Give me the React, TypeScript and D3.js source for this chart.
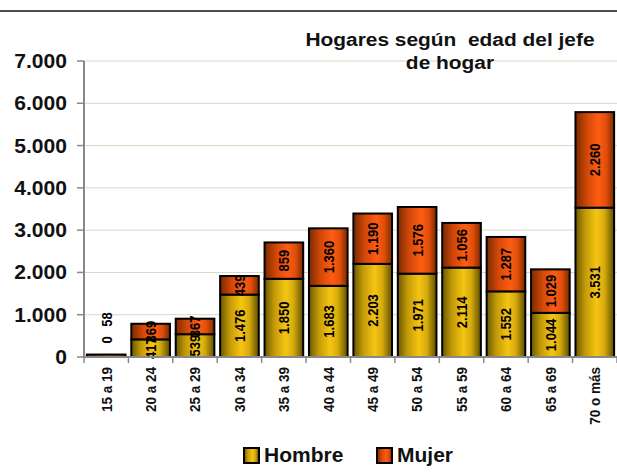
import React from 'react';
import * as d3 from 'd3';

const categories = ['15 a 19', '20 a 24', '25 a 29', '30 a 34', '35 a 39', '40 a 44',
  '45 a 49', '50 a 54', '55 a 59', '60 a 64', '65 a 69', '70 o más'];
const hombre = [0, 417, 539, 1476, 1850, 1683, 2203, 1971, 2114, 1552, 1044, 3531];
const mujer = [58, 369, 367, 439, 859, 1360, 1190, 1576, 1056, 1287, 1029, 2260];
const yTicks = [0, 1000, 2000, 3000, 4000, 5000, 6000, 7000];
const seriesNames = ['Hombre', 'Mujer'];

const W = 617;
const H = 476;
const font = '"Liberation Sans", Arial, sans-serif';
const fmt = (v: number) => d3.format(',')(v).replace(/,/g, '.');

export default function App() {
  const x = d3.scaleBand().domain(categories).range([84, 617]).paddingInner(0.13).paddingOuter(0.065);
  const y = d3.scaleLinear().domain([0, 7000]).range([357, 61]);

  const rows = categories.map((c, i) => ({ cat: c, Hombre: hombre[i], Mujer: mujer[i] }));
  const stack = d3.stack<any>().keys(seriesNames)(rows);
  const step = x.step();
  const bounds = d3.range(categories.length + 1).map(i => 84 + i * step);

  return (
    <div style={{ position: 'absolute', left: 0, top: 0 }}>
      <svg width={W} height={H} style={{ display: 'block', fontFamily: font }}>
        <defs>
          <linearGradient id="gH" x1="0" x2="1" y1="0" y2="0">
            <stop offset="0%" stopColor="#6a5800" />
            <stop offset="25%" stopColor="#c29a08" />
            <stop offset="55%" stopColor="#f6c512" />
            <stop offset="75%" stopColor="#d6aa0c" />
            <stop offset="100%" stopColor="#5e4e00" />
          </linearGradient>
          <linearGradient id="gM" x1="0" x2="1" y1="0" y2="0">
            <stop offset="0%" stopColor="#7a2a00" />
            <stop offset="30%" stopColor="#d24808" />
            <stop offset="60%" stopColor="#ff5c12" />
            <stop offset="80%" stopColor="#e04e0a" />
            <stop offset="100%" stopColor="#7a2a00" />
          </linearGradient>
        </defs>

        <line x1={0} x2={W} y1={11} y2={11} stroke="#111" strokeWidth={1.5} />

        {yTicks.filter(t => t > 0).map(t => (
          <line key={t} x1={84} x2={W} y1={y(t)} y2={y(t)} stroke="#d8d8c4" strokeWidth={1} />
        ))}

        <text x={450} y={46} textAnchor="middle" fontSize={19} fontWeight="bold" fill="#111"
          transform="translate(450,0) scale(1.1,1) translate(-450,0)" style={{ whiteSpace: 'pre' }}>
          {'Hogares según  edad del jefe'}
        </text>
        <text x={450} y={69} textAnchor="middle" fontSize={19} fontWeight="bold" fill="#111"
          transform="translate(450,0) scale(1.1,1) translate(-450,0)">
          de hogar
        </text>

        {stack.map(s => (
          <g key={s.key} fill={s.key === 'Hombre' ? 'url(#gH)' : 'url(#gM)'} stroke="#000" strokeWidth={2}>
            {s.map((d, i) => (
              <rect key={i} x={x(categories[i])} width={x.bandwidth()}
                y={y(d[1])} height={Math.max(0, y(d[0]) - y(d[1]))} />
            ))}
          </g>
        ))}

        {stack.map(s => s.map((d, i) => {
          const v = d[1] - d[0];
          const cx = (x(categories[i]) as number) + x.bandwidth() / 2;
          let cy = (y(d[0]) + y(d[1])) / 2;
          if (categories[i] === '15 a 19') cy = s.key === 'Hombre' ? y(0) - 17 : y(d[1]) - 35;
          return (
            <text key={s.key + i} transform={`translate(${cx},${cy}) rotate(-90) scale(1,1.15)`} textAnchor="middle"
              dy="0.36em" fontSize={13} fontWeight="bold" fill="#000">
              {fmt(v)}
            </text>
          );
        }))}

        <line x1={84} x2={84} y1={61} y2={358} stroke="#888" strokeWidth={2} />
        <line x1={83} x2={W} y1={357} y2={357} stroke="#888" strokeWidth={2} />
        {yTicks.map(t => (
          <g key={t}>
            <line x1={77} x2={84} y1={y(t)} y2={y(t)} stroke="#888" strokeWidth={1.5} />
            <text x={67} y={y(t)} dy="0.36em" textAnchor="end" fontSize={19.5} fontWeight="bold" fill="#111"
              transform={`translate(67,0) scale(1.08,1) translate(-67,0)`}>
              {fmt(t)}
            </text>
          </g>
        ))}
        {bounds.map((b, i) => (
          <line key={i} x1={b} x2={b} y1={357} y2={363} stroke="#888" strokeWidth={1.5} />
        ))}
        {categories.map(c => (
          <text key={c} transform={`translate(${(x(c) as number) + x.bandwidth() / 2},367) rotate(-90) scale(1,1.1)`}
            textAnchor="end" dy="0.36em" fontSize={13.5} fontWeight="bold" fill="#111">
            {c}
          </text>
        ))}

        {seriesNames.map((n, i) => {
          const lx = 244 + i * 133;
          return (
            <g key={n}>
              <rect x={lx} y={448} width={15} height={15} fill={i === 0 ? 'url(#gH)' : 'url(#gM)'}
                stroke="#000" strokeWidth={2} />
              <text x={lx + 20} y={462} fontSize={20} fontWeight="bold" fill="#111"
                transform={`translate(${lx + 20},0) scale(1.05,1) translate(${-(lx + 20)},0)`}>
                {n}
              </text>
            </g>
          );
        })}
      </svg>
    </div>
  );
}
